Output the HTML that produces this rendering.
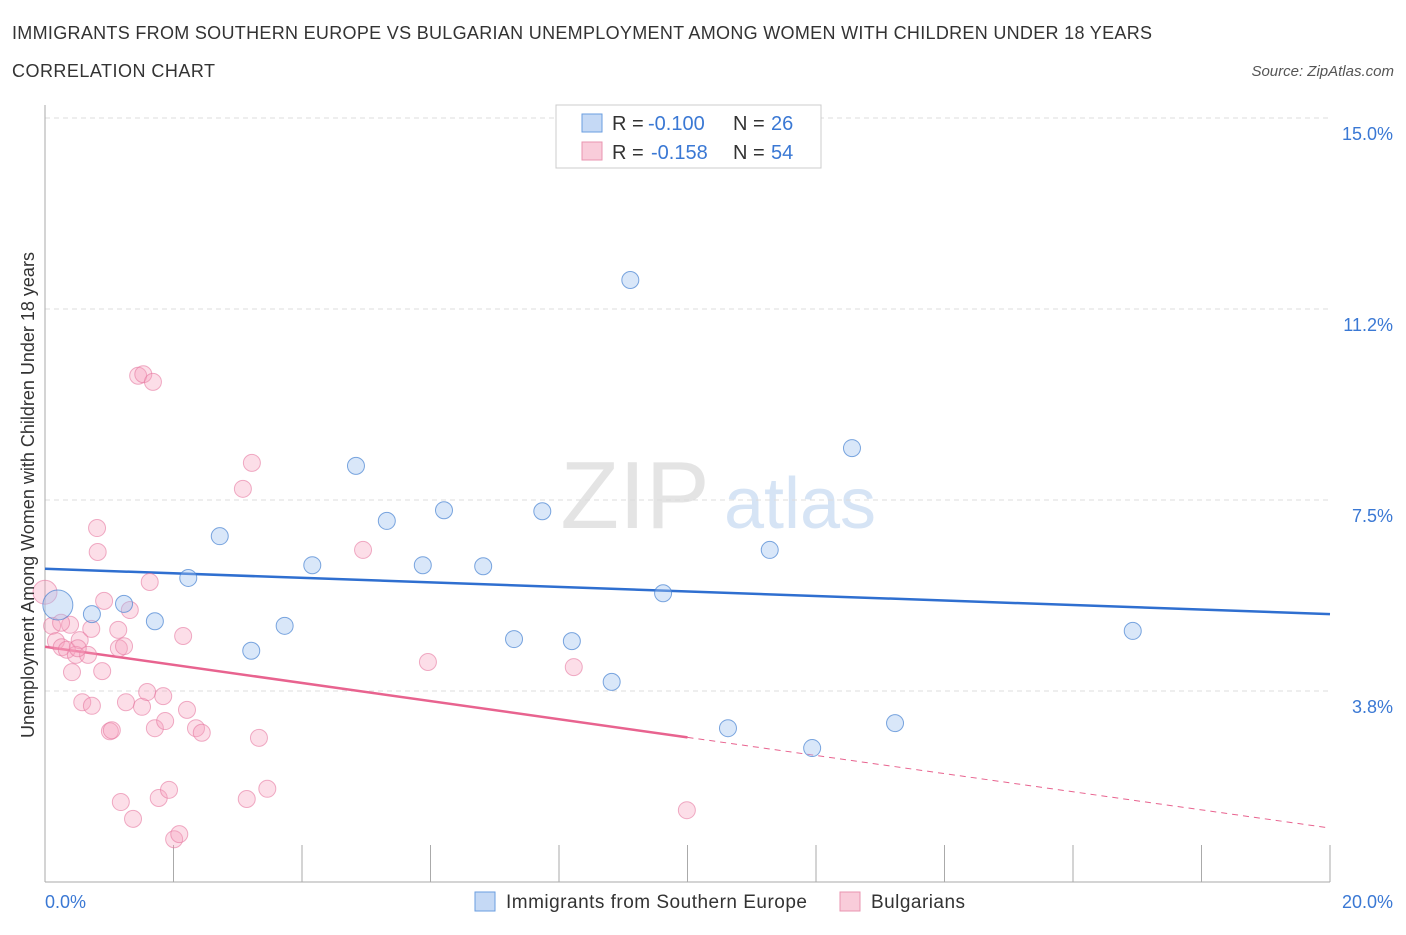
<!DOCTYPE html>
<html><head><meta charset="utf-8"><style>
body{margin:0;background:#fff;font-family:"Liberation Sans",sans-serif;}
svg text{font-family:"Liberation Sans",sans-serif;}
</style></head><body>
<svg id="c" width="1406" height="930" xmlns="http://www.w3.org/2000/svg">
<text x="12" y="39" font-size="18" fill="#333" textLength="1140">IMMIGRANTS FROM SOUTHERN EUROPE VS BULGARIAN UNEMPLOYMENT AMONG WOMEN WITH CHILDREN UNDER 18 YEARS</text>
<text x="12" y="77" font-size="18" fill="#333" textLength="203">CORRELATION CHART</text>
<text x="1394" y="76" font-size="15" fill="#555" font-style="italic" text-anchor="end">Source: ZipAtlas.com</text>
<text x="635" y="528" font-size="96" fill="#e4e4e4" font-family="Liberation Serif" text-anchor="middle">ZIP</text>
<text x="800" y="528" font-size="72" fill="#d6e4f5" text-anchor="middle">atlas</text>
<g id="grid"></g><g id="axes"></g><g id="trend"></g><g id="pts"></g>
<text transform="translate(34,495) rotate(-90)" font-size="18" fill="#333" text-anchor="middle">Unemployment Among Women with Children Under 18 years</text>
<g>
<rect x="556" y="105" width="265" height="63" fill="#fff" stroke="#ccc"/>
<rect x="582" y="114" width="20" height="18" fill="#c5d9f5" stroke="#6a9ee0"/>
<text x="612" y="130" font-size="20" fill="#333">R =</text>
<text x="648" y="130" font-size="20" fill="#3a78d4">-0.100</text>
<text x="733" y="130" font-size="20" fill="#333">N =</text>
<text x="771" y="130" font-size="20" fill="#3a78d4">26</text>
<rect x="582" y="142" width="20" height="18" fill="#f9ccda" stroke="#e995b0"/>
<text x="612" y="159" font-size="20" fill="#333">R =</text>
<text x="651" y="159" font-size="20" fill="#3a78d4">-0.158</text>
<text x="733" y="159" font-size="20" fill="#333">N =</text>
<text x="771" y="159" font-size="20" fill="#3a78d4">54</text>
</g>
<g>
<rect x="475" y="892" width="20" height="19" fill="#c5d9f5" stroke="#6a9ee0"/>
<text x="506" y="908" font-size="19" fill="#333" textLength="301">Immigrants from Southern Europe</text>
<rect x="840" y="892" width="20" height="19" fill="#f9ccda" stroke="#e995b0"/>
<text x="871" y="908" font-size="19" fill="#333" textLength="94">Bulgarians</text>
</g>
</svg>
<script>
const yTicks=[3.75,7.5,11.25,15];
const yTickLabels=["3.8%","7.5%","11.2%","15.0%"];
const xTickLabels=["0.0%","20.0%"];
const blueX=[0.20,0.73,1.23,1.71,2.23,2.72,3.21,3.73,4.16,4.84,5.32,5.88,6.21,6.82,7.30,7.74,8.20,8.82,9.11,9.62,10.63,11.28,11.94,12.56,13.23,16.93];
const blueY=[5.44,5.26,5.46,5.12,5.97,6.79,4.54,5.03,6.22,8.17,7.09,6.22,7.30,6.20,4.77,7.28,4.73,3.93,11.82,5.67,3.02,6.52,2.63,8.52,3.12,4.93];
const pinkX=[0,0.11,0.17,0.26,0.39,0.34,0.42,0.54,0.48,0.58,0.67,0.73,0.81,0.82,0.89,0.92,1.01,1.04,1.14,1.15,1.18,1.23,1.26,1.32,1.37,1.45,1.53,1.51,1.59,1.63,1.68,1.71,1.77,1.84,1.87,1.93,2.01,2.09,2.15,2.21,2.35,2.44,3.08,3.14,3.22,3.33,3.46,4.95,5.96,8.23,9.99,0.25,0.72,0.51];
const pinkY=[5.69,5.03,4.73,4.61,5.05,4.56,4.12,4.75,4.46,3.53,4.46,3.46,6.95,6.48,4.14,5.52,2.96,2.98,4.95,4.59,1.57,4.63,3.53,5.34,1.24,9.94,9.97,3.44,3.73,5.89,9.82,3.02,1.65,3.65,3.16,1.81,0.84,0.94,4.83,3.38,3.02,2.93,7.72,1.63,8.23,2.83,1.83,6.52,4.32,4.22,1.41,5.09,4.97,4.59];
const blueTrend=[6.15,5.26];
const pinkTrend=[4.62,1.06];
const NS="http://www.w3.org/2000/svg";
const X=v=>45+v/20*1285, Y=v=>882-v*50.93;
function mk(p,t,a){const e=document.createElementNS(NS,t);for(const k in a)e.setAttribute(k,a[k]);document.getElementById(p).appendChild(e);return e;}
yTicks.forEach((t,i)=>{
 const l=mk('grid','line',{x1:45,x2:1330,y1:Y(t),y2:Y(t),stroke:'#ddd','stroke-dasharray':'5,4'});
 
 
 const tx=mk('grid','text',{x:1393,y:Y(t)+22,'font-size':18,fill:'#3a78d4','text-anchor':'end'});tx.textContent=yTickLabels[i];
 
 
});
let ax=mk('axes','line',{x1:45,x2:45,y1:105,y2:882,stroke:'#aaa'});


ax=mk('axes','line',{x1:45,x2:1330,y1:882,y2:882,stroke:'#aaa'});


for(let i=1;i<=10;i++){const tk=mk('axes','line',{x1:X(i*2),x2:X(i*2),y1:845,y2:882,stroke:'#aaa'});
 
 }
let t0=mk('axes','text',{x:45,y:908,'font-size':18,fill:'#3a78d4'});t0.textContent=xTickLabels[0];


t0=mk('axes','text',{x:1393,y:908,'font-size':18,fill:'#3a78d4','text-anchor':'end'});t0.textContent=xTickLabels[1];


pinkX.forEach((x,i)=>{const c=mk('pts','circle',{cx:X(x),cy:Y(pinkY[i]),r:i==0?12:8.5,fill:'rgba(245,160,190,0.35)',stroke:'rgba(230,120,160,0.6)'});
 
 });
blueX.forEach((x,i)=>{const c=mk('pts','circle',{cx:X(x),cy:Y(blueY[i]),r:i==0?15:8.5,fill:'rgba(160,195,240,0.4)',stroke:'rgba(70,130,210,0.7)'});
 
 });
let tl=mk('trend','line',{x1:X(0),y1:Y(blueTrend[0]),x2:X(20),y2:Y(blueTrend[1]),stroke:'#2f6fd0','stroke-width':2.5});


const pm=pinkTrend[0]+(pinkTrend[1]-pinkTrend[0])*0.5;
tl=mk('trend','line',{x1:X(0),y1:Y(pinkTrend[0]),x2:X(10),y2:Y(pm),stroke:'#e8638f','stroke-width':2.5});


tl=mk('trend','line',{x1:X(10),y1:Y(pm),x2:X(20),y2:Y(pinkTrend[1]),stroke:'#e8638f','stroke-width':1,'stroke-dasharray':'6,5'});


</script>
</body></html>
